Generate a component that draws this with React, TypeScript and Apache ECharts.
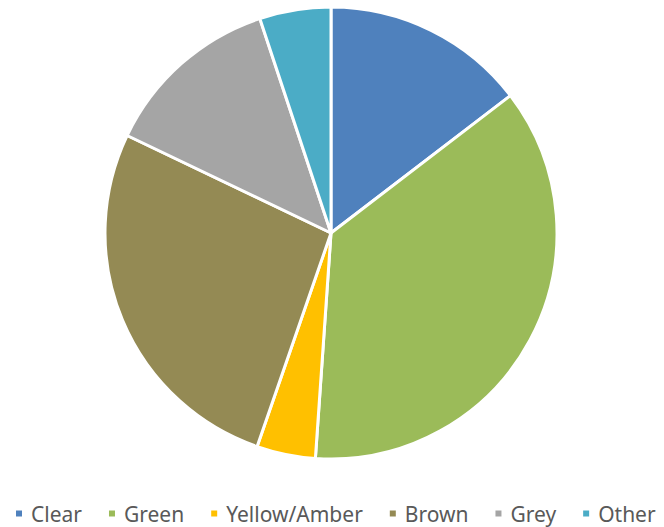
import React, { useEffect, useRef } from "react";
import * as echarts from "echarts";

const categories = ["Clear", "Green", "Yellow/Amber", "Brown", "Grey", "Other"];
const values = [14.6, 36.5, 4.2, 26.8, 12.8, 5.1];
const colors = ["#4F81BD", "#9BBB59", "#FFC000", "#948A54", "#A5A5A5", "#4BACC6"];

export default function App() {
  const ref = useRef<HTMLDivElement>(null);
  useEffect(() => {
    document.body.style.margin = "0";
    const chart = echarts.init(ref.current!, null, { renderer: "svg" });
    chart.setOption({
      animation: false,
      color: colors,
      legend: {
        top: 498,
        left: 9,
        width: 660,
        itemWidth: 8,
        itemHeight: 8,
        itemGap: 25,
        icon: "rect",
        textStyle: { fontFamily: "Noto Sans", fontSize: 21, color: "#595959", padding: [0, 0, 0, 3] },
        data: categories,
      },
      series: [
        {
          type: "pie",
          center: [331, 233],
          radius: 226,
          startAngle: 90,
          clockwise: true,
          label: { show: false },
          labelLine: { show: false },
          emphasis: { disabled: true },
          itemStyle: { borderColor: "#ffffff", borderWidth: 3 },
          data: categories.map((c, i) => ({ name: c, value: values[i] })),
        },
      ],
    });
    return () => chart.dispose();
  }, []);
  return <div ref={ref} style={{ width: 664, height: 527 }} />;
}
